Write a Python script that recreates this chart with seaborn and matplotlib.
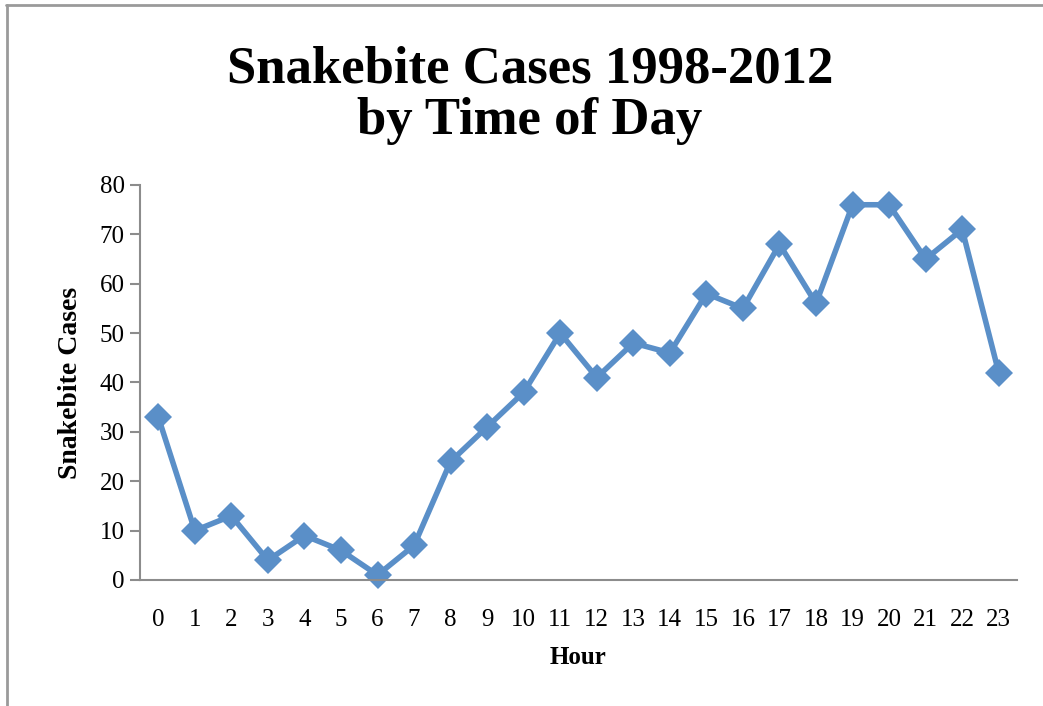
import matplotlib
matplotlib.use("Agg")
import matplotlib.pyplot as plt
import seaborn as sns
import pandas as pd
from matplotlib.lines import Line2D
from matplotlib.ticker import MultipleLocator

hours = list(range(24))
cases = [33, 10, 13, 4, 9, 6, 1, 7, 24, 31, 38, 50, 41, 48, 46, 58, 55, 68, 56, 76, 76, 65, 71, 42]
hour_labels = [str(h) for h in hours]
title = "Snakebite Cases 1998-2012\nby Time of Day"

sns.set_theme(style="white")
plt.rcParams['font.family'] = ['Liberation Serif', 'DejaVu Serif']

df = pd.DataFrame({"Hour": hours, "Cases": cases})

fig = plt.figure(figsize=(10.43, 7.06), dpi=100)
ax = fig.add_axes([140/1043, 1 - 580/706, (1017 - 140)/1043, (580 - 185)/706])

color = "#5A8FC8"
sns.lineplot(data=df, x="Hour", y="Cases", ax=ax, color=color, linewidth=4,
             marker="D", markersize=14, markeredgewidth=0, clip_on=False)

ax.set_xlim(-0.5, 23.5)
ax.set_ylim(0, 80)
ax.yaxis.set_major_locator(MultipleLocator(10))
ax.set_xticks(hours)
ax.set_xticklabels(hour_labels)

spine_c = "#8C8C8C"
for s in ["top", "right"]:
    ax.spines[s].set_visible(False)
for s in ["left", "bottom"]:
    ax.spines[s].set_color(spine_c)
    ax.spines[s].set_linewidth(1.5)

ax.tick_params(axis="y", which="major", left=True, length=7, width=1.5, color=spine_c,
               labelsize=18, pad=4, labelcolor="black")
ax.tick_params(axis="x", which="major", bottom=False, labelsize=18, pad=15, labelcolor="black")

ax.set_xlabel("Hour", fontsize=18, fontweight="bold", labelpad=11, color="black")
ax.set_ylabel("Snakebite Cases", fontsize=20, fontweight="bold", labelpad=12, color="black")

fig.text(0.508, 1 - 95/706, title, ha="center", va="center", fontsize=38,
         fontweight="bold", linespacing=1.1, color="black")

# outer chart border (top and left visible)
fig.add_artist(Line2D([6/1043, 1], [1 - 5/706, 1 - 5/706], transform=fig.transFigure,
                      color="#9A9A9A", linewidth=2))
fig.add_artist(Line2D([7/1043, 7/1043], [0, 1 - 5/706], transform=fig.transFigure,
                      color="#9A9A9A", linewidth=2))

fig.savefig("out.png", dpi=100)
